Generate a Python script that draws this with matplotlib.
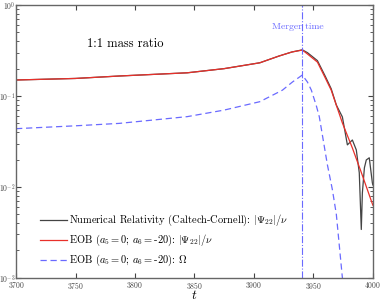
import matplotlib
matplotlib.use("Agg")
import matplotlib.pyplot as plt
import matplotlib.ticker as mticker
import numpy as np

# EOB amplitude |Psi22|/nu
t_eob = [3700, 3750, 3787, 3844, 3875, 3905, 3921, 3932, 3940.7,
         3945, 3953.4, 3960, 3965, 3974.4, 3982.8, 3990, 4000]
amp_eob = [0.150, 0.156, 0.166, 0.180, 0.200, 0.232, 0.275, 0.305, 0.320,
           0.290, 0.236, 0.158, 0.116, 0.0505, 0.0268, 0.0148, 0.0063]

# Numerical relativity amplitude (Caltech-Cornell)
t_nr = [3700, 3750, 3787, 3844, 3875, 3905, 3921, 3932, 3940.7,
        3945, 3953.4, 3960, 3965, 3969.3, 3974.4, 3978.6, 3982.8, 3986.1,
        3988.6, 3990.3, 3991.2, 3992.9, 3994.5, 3997, 3999.6, 4000]
amp_nr = [0.150, 0.156, 0.166, 0.180, 0.200, 0.232, 0.275, 0.305, 0.322,
          0.300, 0.245, 0.165, 0.120, 0.0796, 0.0588, 0.029, 0.0328, 0.0255,
          0.0143, 0.0034, 0.0086, 0.0162, 0.0198, 0.0209, 0.0111, 0.0105]

# EOB orbital frequency Omega
t_om = [3700, 3750, 3787, 3844, 3875, 3905, 3924, 3932.4, 3940.7,
        3945, 3948.3, 3952.5, 3955, 3961.8, 3966, 3969.3, 3974.4, 3977]
omega = [0.0437, 0.0470, 0.0500, 0.0593, 0.0700, 0.0866, 0.116, 0.1425, 0.170,
         0.1425, 0.116, 0.078, 0.059, 0.0175, 0.0093, 0.0050, 0.0010, 0.0007]

t_merger = 3940.7

plt.rcParams['font.family'] = 'cmr10'
plt.rcParams['mathtext.fontset'] = 'cm'
plt.rcParams['axes.formatter.use_mathtext'] = True

fig = plt.figure(figsize=(3.82, 3.0), dpi=100)
ax = fig.add_axes([0.042, 0.074, 0.934, 0.909])

ax.plot(t_nr, amp_nr, color='#444444', lw=0.9,
        label=r'Numerical Relativity (Caltech-Cornell): $|\Psi_{22}|/\nu$')
ax.plot(t_eob, amp_eob, color='#e8302a', lw=0.9,
        label=r'EOB ($a_5=0$; $a_6=$-20): $|\Psi_{22}|/\nu$')
ax.plot(t_om, omega, color='#6a6aff', lw=0.9, ls=(0, (5, 3)),
        label=r'EOB ($a_5=0$; $a_6=$-20): $\Omega$')
ax.axvline(t_merger, color='#6a6aff', lw=0.8, ls='-.')

ax.set_yscale('log')
ax.set_xlim(3700, 4000)
ax.set_ylim(1e-3, 1)
ax.set_xticks([3700, 3750, 3800, 3850, 3900, 3950, 4000])
ax.yaxis.set_minor_locator(mticker.LogLocator(base=10, subs=np.arange(2, 10)))
ax.yaxis.set_minor_formatter(mticker.NullFormatter())
ax.tick_params(which='both', direction='in', top=True, right=True,
               labelsize=5.5, colors='#444444')
ax.tick_params(which='major', length=3.5)
ax.tick_params(which='minor', length=2)
ax.tick_params(axis='x', pad=1.5)
ax.tick_params(axis='y', pad=0.5)
for sp in ax.spines.values():
    sp.set_color('#666666')
    sp.set_linewidth(1.0)

ax.set_xlabel(r'$t$', fontsize=9.5, labelpad=-1)

ax.text(0.20, 0.857, '1:1 mass ratio', transform=ax.transAxes,
        fontsize=9, va='center', ha='left')
ax.text(0.79, 0.92, 'Merger time', transform=ax.transAxes,
        fontsize=7, va='center', ha='center', color='#6a6aff')

ax.legend(loc='lower left', bbox_to_anchor=(0.04, 0.0), frameon=False,
          fontsize=7.5, handlelength=2.6, handletextpad=0.2,
          labelspacing=0.45)

fig.savefig('out.png', dpi=100)
